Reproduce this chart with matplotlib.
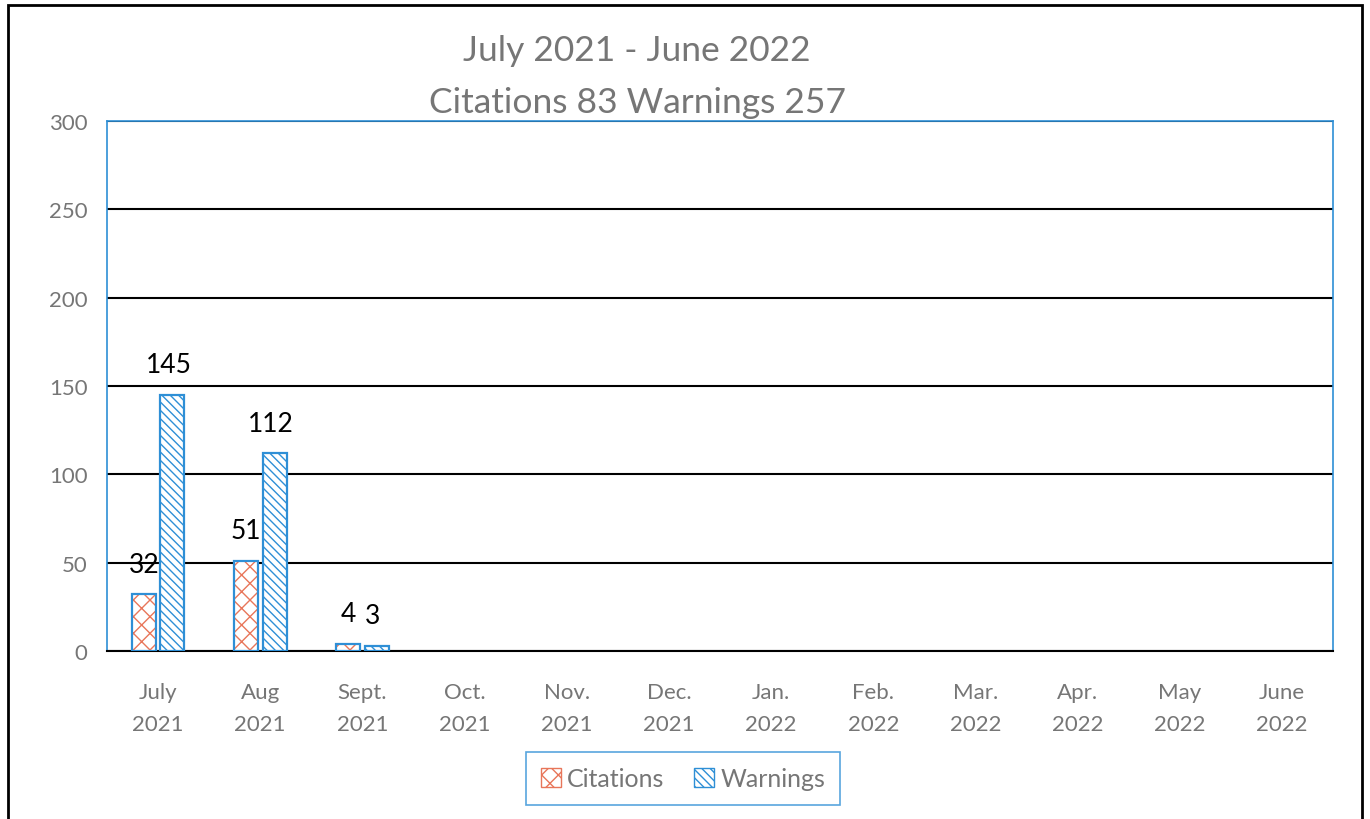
import numpy as np
import matplotlib.pyplot as plt
from matplotlib.patches import Rectangle, Patch

months = ['July\n2021', 'Aug\n2021', 'Sept.\n2021', 'Oct.\n2021', 'Nov.\n2021', 'Dec.\n2021',
          'Jan.\n2022', 'Feb.\n2022', 'Mar.\n2022', 'Apr.\n2022', 'May\n2022', 'June\n2022']
citations = [32, 51, 4, 0, 0, 0, 0, 0, 0, 0, 0, 0]
warnings = [145, 112, 3, 0, 0, 0, 0, 0, 0, 0, 0, 0]
labels_c = ['32', '51', '4', '', '', '', '', '', '', '', '', '']
labels_w = ['145', '112', '3', '', '', '', '', '', '', '', '', '']

plt.rcParams['font.family'] = ['Lato', 'DejaVu Sans']
plt.rcParams['hatch.linewidth'] = 1.0

blue = '#2e8fd6'
orange = '#e8765a'
gray = '#767676'

fig = plt.figure(figsize=(13.7, 8.2), dpi=100)
ax = fig.add_axes([0.0781, 0.2049, 0.8949, 0.6463])

x = np.arange(len(months))
w = 0.235
off = 0.14
c = np.array(citations)
wn = np.array(warnings)
mc = c > 0
mw = wn > 0

# hatch layers, then outlines on top
ax.bar(x[mc] - off, c[mc], w, color='white', edgecolor=orange, hatch='xx', linewidth=0, zorder=3)
ax.bar(x[mc] - off, c[mc], w, color='none', edgecolor=blue, linewidth=1.6, zorder=4)
ax.bar(x[mw] + off, wn[mw], w, color='white', edgecolor=blue, hatch='\\\\\\\\', linewidth=0, zorder=3)
ax.bar(x[mw] + off, wn[mw], w, color='none', edgecolor=blue, linewidth=1.6, zorder=4)

for i in range(len(months)):
    if labels_c[i]:
        ax.annotate(labels_c[i], (x[i] - off, citations[i]), xytext=(0, 30), textcoords='offset pixels',
                    ha='center', va='center', fontsize=19, color='black', zorder=5)
    if labels_w[i]:
        ax.annotate(labels_w[i], (x[i] + off, warnings[i]), xytext=(-4, 30), textcoords='offset pixels',
                    ha='center', va='center', fontsize=19, color='black', zorder=5)

ax.set_xlim(-0.5, 11.5)
ax.set_ylim(0, 300)
ax.set_yticks(range(0, 301, 50))
ax.set_xticks(x)
ax.set_xticklabels(months, linespacing=1.75)
ax.tick_params(axis='both', length=0, labelsize=16, labelcolor=gray)
ax.tick_params(axis='y', pad=14)
ax.tick_params(axis='x', pad=22)
ax.grid(axis='y', color='black', linewidth=1.5, zorder=1)
ax.set_axisbelow(True)
for s in ['left', 'right', 'top']:
    ax.spines[s].set_color(blue)
    ax.spines[s].set_linewidth(1.2)
ax.spines['bottom'].set_color('black')
ax.spines['bottom'].set_linewidth(1.5)

fig.text(0.465, 0.938, 'July 2021 - June 2022', ha='center', va='center', fontsize=25.5, color=gray)
fig.text(0.465, 0.874, 'Citations 83 Warnings 257', ha='center', va='center', fontsize=25.5, color=gray)

# legend
h1 = Patch(facecolor='white', edgecolor=orange, hatch='xx')
h2 = Patch(facecolor='white', edgecolor=blue, hatch='\\\\\\\\')
leg = fig.legend([h1, h2], ['Citations', 'Warnings'], loc='center', bbox_to_anchor=(0.4985, 0.049),
                 ncol=2, fontsize=18, frameon=True, fancybox=False, handlelength=0.8, handleheight=0.8,
                 columnspacing=1.2, handletextpad=0.25, borderpad=0.6, borderaxespad=0)
leg.get_frame().set_edgecolor(blue)
leg.get_frame().set_linewidth(1.2)
for t in leg.get_texts():
    t.set_color(gray)

# outer frame
fig.patches.append(Rectangle((0.006, -0.01), 0.988, 1.003, transform=fig.transFigure,
                             fill=False, edgecolor='black', linewidth=2))

fig.savefig('out.png', dpi=100)
